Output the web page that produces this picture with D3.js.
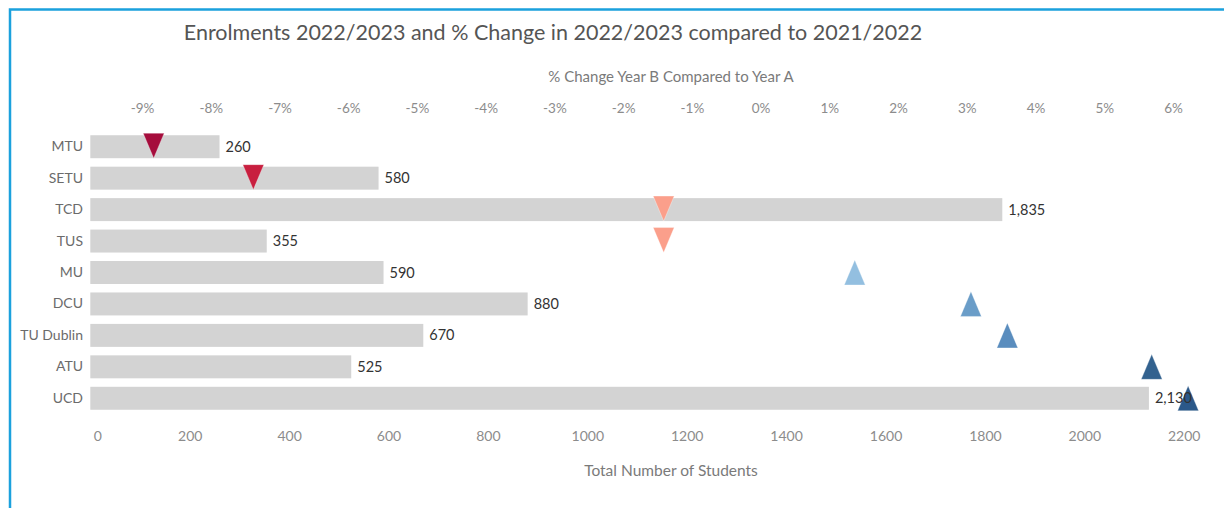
<!DOCTYPE html>
<html>
<head>
<meta charset="utf-8">
<script src="https://cdn.jsdelivr.net/npm/d3@7"></script>
<style>
    body { margin: 0; background: #fff; }
    svg { display: block; font-family: Lato, "Open Sans", sans-serif; }
</style>
</head>
<body>
<svg id="drawing_region"></svg>
<script>
// universities, top to bottom
const universities = ['MTU', 'SETU', 'TCD', 'TUS', 'MU', 'DCU', 'TU Dublin', 'ATU', 'UCD'];
// enrolments 2022/2023
const students = [260, 580, 1835, 355, 590, 880, 670, 525, 2130];
// % change compared to 2021/2022
const pctChange = [-8.83, -7.38, -1.41, -1.41, 1.37, 3.06, 3.59, 5.69, 6.22];

const studentTicks = [0, 200, 400, 600, 800, 1000, 1200, 1400, 1600, 1800, 2000, 2200];
const pctTicks = [-9, -8, -7, -6, -5, -4, -3, -2, -1, 0, 1, 2, 3, 4, 5, 6];

const data = universities.map((u, i) => ({ name: u, value: students[i], pct: pctChange[i] }));

const width = 1224, height = 508;

const svg = d3.select('#drawing_region')
    .attr('width', width)
    .attr('height', height);

// blue dashboard frame
svg.append('rect')
    .attr('x', 10).attr('y', 9.5)
    .attr('width', 1240).attr('height', 520)
    .attr('fill', 'none')
    .attr('stroke', '#1ba1dd')
    .attr('stroke-width', 2.5);

const xscale = d3.scaleLinear()
    .domain([0, 2200])
    .range([90.3, 1183.7]);

const pscale = d3.scaleLinear()
    .domain([-9, 6])
    .range([142, 1173]);

const yscale = d3.scaleBand()
    .domain(universities)
    .range([131, 414])
    .paddingInner(0.27)
    .paddingOuter(0.135);

const color = d3.scaleLinear()
    .domain([-8.83, -7.38, -1.41, 0, 1.37, 3.06, 3.59, 5.69, 6.22])
    .range(['#a50d3c', '#c81f3f', '#fb9f8b', '#eeeeee', '#93bfe0', '#6a9dc8', '#5a8dbe', '#33628f', '#2b5889']);

// title
svg.append('text')
    .attr('x', 553).attr('y', 40)
    .attr('text-anchor', 'middle')
    .attr('font-size', 21.5)
    .attr('fill', '#555')
    .text('Enrolments 2022/2023 and % Change in 2022/2023 compared to 2021/2022');

// top axis (percent)
const pAxis = d3.axisTop(pscale)
    .tickValues(pctTicks)
    .tickSize(0)
    .tickPadding(0)
    .tickFormat(d => d + '%');

const pGroup = svg.append('g')
    .attr('transform', 'translate(0, 113)')
    .call(pAxis);
pGroup.select('.domain').remove();
pGroup.selectAll('text')
    .attr('font-family', 'Lato, sans-serif')
    .attr('font-size', 13.5)
    .attr('fill', '#8c8c8c');

svg.append('text')
    .attr('x', 671).attr('y', 82)
    .attr('text-anchor', 'middle')
    .attr('font-size', 15)
    .attr('fill', '#7a7a7a')
    .text('% Change Year B Compared to Year A');

// bottom axis (students)
const xAxis = d3.axisBottom(xscale)
    .tickValues(studentTicks)
    .tickSize(0)
    .tickPadding(0)
    .tickFormat(d3.format('d'));

const xGroup = svg.append('g')
    .attr('transform', 'translate(0, 431)')
    .call(xAxis);
xGroup.select('.domain').remove();
xGroup.selectAll('text')
    .attr('font-family', 'Lato, sans-serif')
    .attr('font-size', 14)
    .attr('fill', '#8c8c8c');
xGroup.selectAll('.tick').filter(d => d === 0).select('text')
    .attr('text-anchor', 'start')
    .attr('dx', 3);

svg.append('text')
    .attr('x', 671).attr('y', 476)
    .attr('text-anchor', 'middle')
    .attr('font-size', 15.5)
    .attr('fill', '#7a7a7a')
    .text('Total Number of Students');

// y axis
const yAxis = d3.axisLeft(yscale)
    .tickSize(0)
    .tickPadding(0);

const yGroup = svg.append('g')
    .attr('transform', 'translate(83, 0)')
    .call(yAxis);
yGroup.select('.domain').remove();
yGroup.selectAll('text')
    .attr('font-family', 'Lato, sans-serif')
    .attr('font-size', 14)
    .attr('fill', '#6b6b6b');

// bars
svg.append('g').selectAll('rect')
    .data(data)
    .join('rect')
    .attr('x', xscale(0))
    .attr('y', d => yscale(d.name))
    .attr('width', d => xscale(d.value) - xscale(0))
    .attr('height', yscale.bandwidth())
    .attr('fill', '#d3d3d3');

// triangles for % change
const tw = 21, th = 25;
function triangle(d) {
    const cx = pscale(d.pct);
    const cy = yscale(d.name) + yscale.bandwidth() / 2;
    if (d.pct < 0) {
        return `M${cx - tw / 2},${cy - th / 2 - 1}L${cx + tw / 2},${cy - th / 2 - 1}L${cx},${cy + th / 2 - 1}Z`;
    }
    return `M${cx - tw / 2},${cy + th / 2}L${cx + tw / 2},${cy + th / 2}L${cx},${cy - th / 2}Z`;
}

svg.append('g').selectAll('path')
    .data(data)
    .join('path')
    .attr('d', triangle)
    .attr('fill', d => color(d.pct))
    .attr('stroke', '#fff')
    .attr('stroke-opacity', 0.4)
    .attr('stroke-width', 0.8);

// value labels (drawn on top of the triangles)
svg.append('g').selectAll('text')
    .data(data)
    .join('text')
    .attr('x', d => xscale(d.value) + 6)
    .attr('y', d => yscale(d.name) + yscale.bandwidth() / 2)
    .attr('dy', '0.35em')
    .attr('font-size', 14.5)
    .attr('fill', '#333')
    .text(d => d3.format(',')(d.value));
</script>
</body>
</html>
